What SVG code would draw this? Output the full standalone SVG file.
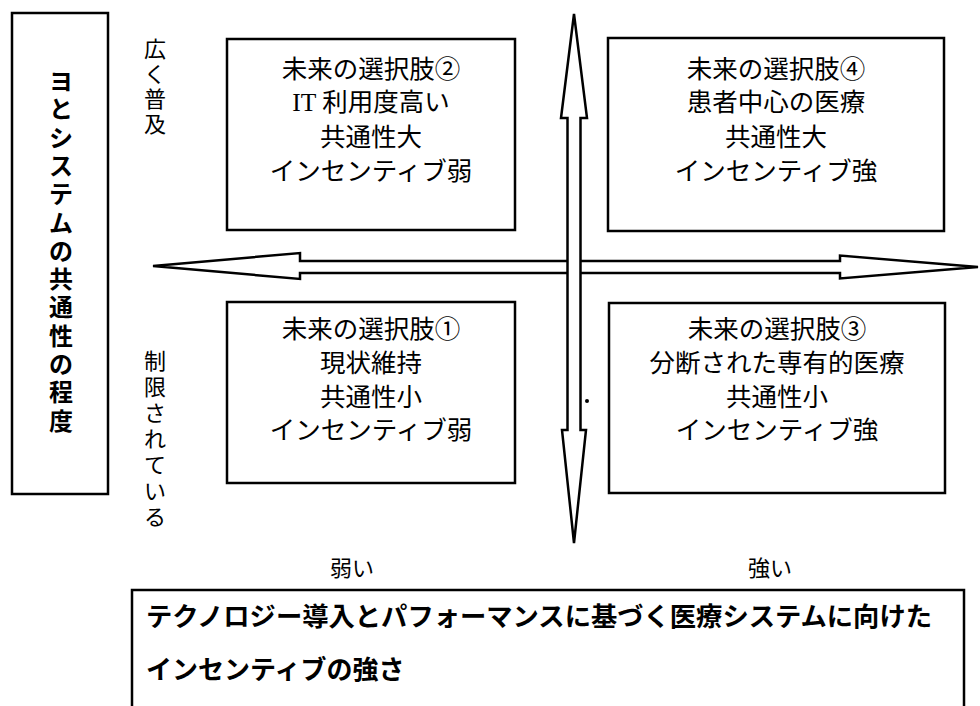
<svg xmlns="http://www.w3.org/2000/svg" width="980" height="706" viewBox="0 0 980 706">
<style>
.box{fill:#fff;stroke:#000;stroke-width:2.5}
.arrow{fill:#fff;stroke:#000;stroke-width:2.5;stroke-linejoin:miter}
.bt{font-family:"Liberation Serif","Noto Sans CJK JP",serif;font-size:25.5px;text-anchor:middle;fill:#000}
.vt{font-family:"Noto Sans CJK JP",sans-serif;font-weight:bold;font-size:24px;text-anchor:middle;fill:#000}
.lb{font-family:"Noto Sans CJK JP",sans-serif;font-size:22px;text-anchor:middle;fill:#000}
.bb{font-family:"Noto Sans CJK JP",sans-serif;font-weight:bold;font-size:26px;fill:#000}
</style>
<rect width="980" height="706" fill="#fff"/>
<g id="axis-y-label">
<rect class="box" x="12" y="13" width="96" height="481"/>
<text class="vt" x="61" y="90">ヨ</text>
<text class="vt" x="61" y="118">と</text>
<text class="vt" x="61" y="147">シ</text>
<text class="vt" x="61" y="175">ス</text>
<text class="vt" x="61" y="203">テ</text>
<text class="vt" x="61" y="232">ム</text>
<text class="vt" x="61" y="260">の</text>
<text class="vt" x="61" y="288">共</text>
<text class="vt" x="61" y="316">通</text>
<text class="vt" x="61" y="345">性</text>
<text class="vt" x="61" y="373">の</text>
<text class="vt" x="61" y="401">程</text>
<text class="vt" x="61" y="430">度</text>
</g>
<g id="label-wide">
<text class="lb" x="155" y="57">広</text>
<text class="lb" x="155" y="82">く</text>
<text class="lb" x="155" y="107">普</text>
<text class="lb" x="155" y="132">及</text>
</g>
<g id="label-limited">
<text class="lb" x="155" y="369">制</text>
<text class="lb" x="155" y="395">限</text>
<text class="lb" x="155" y="421">さ</text>
<text class="lb" x="155" y="447">れ</text>
<text class="lb" x="155" y="473">て</text>
<text class="lb" x="155" y="499">い</text>
<text class="lb" x="155" y="525">る</text>
</g>
<g id="connectors">
<polygon class="arrow" points="153,266 300,253 300,261 840,261 840,255.5 978,267 840,278.5 840,273 300,273 300,279"/>
<polygon class="arrow" points="574,14 587,118 580.5,118 580.5,430 586,430 574,543 562,430 567.5,430 567.5,118 561,118"/>
</g>
<g id="option2">
<rect class="box" x="227" y="39" width="288" height="191"/>
<text class="bt" x="371" y="78">未来の選択肢②</text>
<text class="bt" x="371" y="111">IT 利用度高い</text>
<text class="bt" x="371" y="146">共通性大</text>
<text class="bt" x="371" y="180">インセンティブ弱</text>
</g>
<g id="option4">
<rect class="box" x="608" y="38" width="336" height="193"/>
<text class="bt" x="776" y="78">未来の選択肢④</text>
<text class="bt" x="776" y="111">患者中心の医療</text>
<text class="bt" x="776" y="146">共通性大</text>
<text class="bt" x="776" y="180">インセンティブ強</text>
</g>
<g id="option1">
<rect class="box" x="227" y="302" width="288" height="181"/>
<text class="bt" x="371" y="338">未来の選択肢①</text>
<text class="bt" x="371" y="372">現状維持</text>
<text class="bt" x="371" y="406">共通性小</text>
<text class="bt" x="371" y="439">インセンティブ弱</text>
</g>
<g id="option3">
<rect class="box" x="609" y="303" width="336" height="190"/>
<text class="bt" x="777" y="338">未来の選択肢③</text>
<text class="bt" x="777" y="372">分断された専有的医療</text>
<text class="bt" x="777" y="406">共通性小</text>
<text class="bt" x="777" y="439">インセンティブ強</text>
</g>
<circle cx="587" cy="401" r="2" fill="#000"/>
<g id="label-weak"><text class="lb" x="352" y="576">弱い</text></g>
<g id="label-strong"><text class="lb" x="770" y="576">強い</text></g>
<g id="axis-x-label">
<rect class="box" x="132" y="590" width="832" height="125"/>
<text class="bb" x="146" y="626" textLength="786" lengthAdjust="spacingAndGlyphs">テクノロジー導入とパフォーマンスに基づく医療システムに向けた</text>
<text class="bb" x="146" y="679">インセンティブの強さ</text>
</g>
</svg>
